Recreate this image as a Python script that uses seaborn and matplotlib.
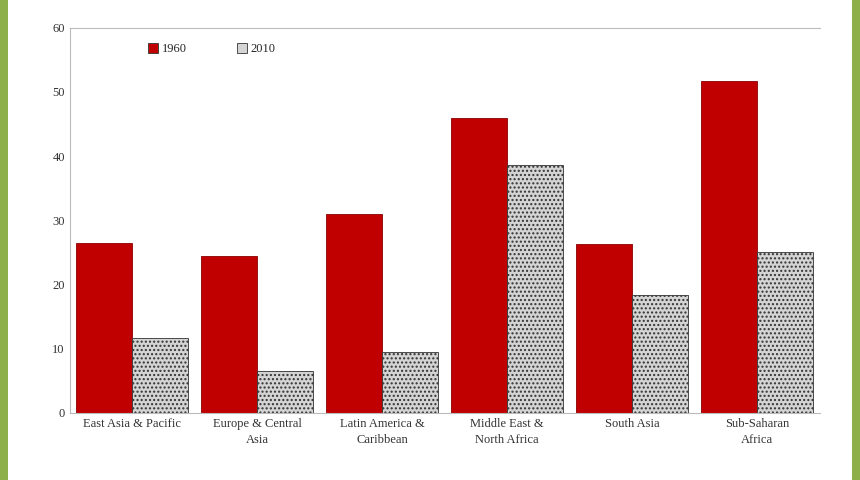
import matplotlib
matplotlib.use("Agg")
import matplotlib.pyplot as plt
import seaborn as sns
import pandas as pd
from matplotlib.patches import Rectangle

regions = ["East Asia & Pacific", "Europe & Central\nAsia", "Latin America &\nCaribbean",
           "Middle East &\nNorth Africa", "South Asia", "Sub-Saharan\nAfrica"]
years = ["1960", "2010"]
values_1960 = [26.5, 24.5, 31.0, 46.0, 26.3, 51.7]
values_2010 = [11.7, 6.5, 9.4, 38.6, 18.3, 25.0]

df = pd.DataFrame({
    "region": regions * 2,
    "year": [years[0]] * 6 + [years[1]] * 6,
    "value": values_1960 + values_2010,
})

sns.set_style("white")
plt.rcParams["font.family"] = ["Liberation Serif", "DejaVu Serif"]

fig = plt.figure(figsize=(8.6, 4.8), dpi=100)
fig.patch.set_facecolor("#8db04a")
fig.add_artist(Rectangle((8 / 860, 0), 844 / 860, 1,
                         transform=fig.transFigure, facecolor="white",
                         edgecolor="none", zorder=0))
ax = fig.add_axes([0.081, 0.140, 0.872, 0.802])

sns.barplot(data=df, x="region", y="value", hue="year",
            palette={"1960": "#c00000", "2010": "#d4d4d4"}, saturation=1,
            width=0.9, gap=0, ax=ax, edgecolor="#333333", linewidth=0.6)
for bar in ax.containers[1]:
    bar.set_hatch("....")
for bar in ax.containers[0]:
    bar.set_edgecolor("#8b0000")

ax.set_ylim(0, 60)
ax.set_yticks(range(0, 61, 10))
ax.set_xlabel("")
ax.set_ylabel("")
ax.tick_params(axis="both", labelsize=9, colors="#333333", length=0)
for lbl in ax.get_xticklabels():
    lbl.set_linespacing(1.5)
ax.set_facecolor("none")
for s in ["left", "bottom", "top"]:
    ax.spines[s].set_color("#bbbbbb")
ax.spines["right"].set_visible(False)

ax.legend(loc="upper left", bbox_to_anchor=(0.09, 0.99), ncol=2, frameon=False,
          fontsize=9, handlelength=0.8, handleheight=0.8, columnspacing=4,
          handletextpad=0.3)

fig.savefig("out.png", dpi=100, facecolor=fig.get_facecolor())
